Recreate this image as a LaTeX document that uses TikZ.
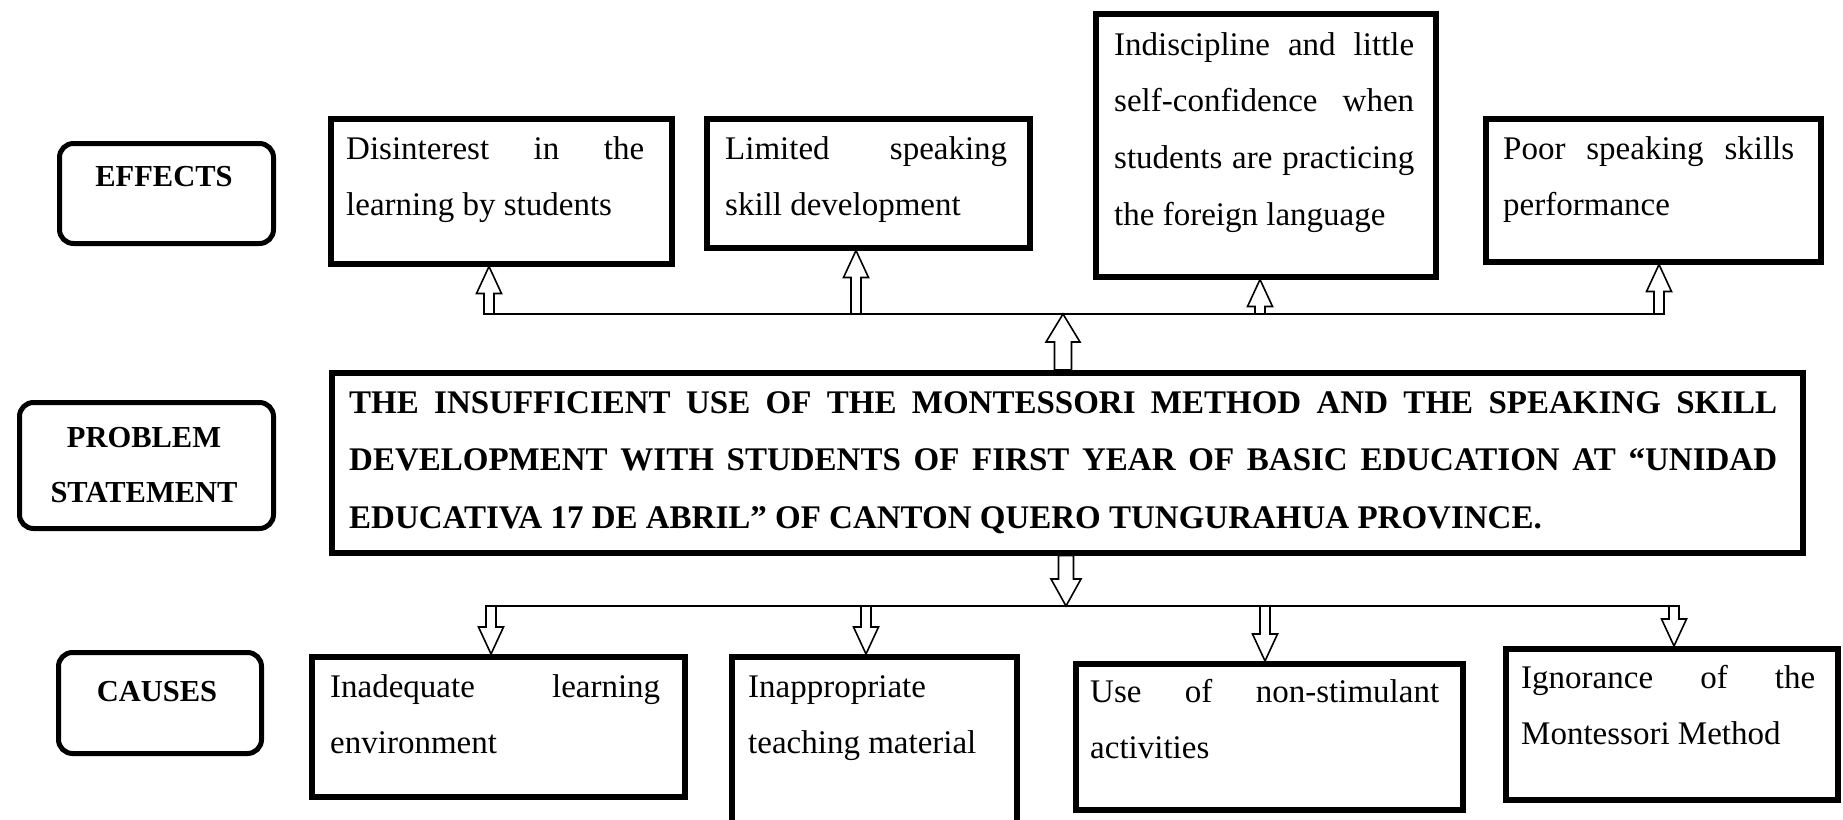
\documentclass[tikz,border=0pt]{standalone}
\usepackage{fontspec}
\setmainfont{Liberation Serif}
\usetikzlibrary{calc}
\tikzset{
  box/.style={draw, line width=5.5pt, rectangle, inner sep=0pt, anchor=north west},
  lbl/.style={draw, line width=5pt, rounded corners=14pt, inner sep=0pt, anchor=north west},
  bus/.style={line width=2pt},
  arr/.style={line width=1.6pt, fill=white, line join=miter},
  btxt/.style={inner sep=0pt, anchor=north west, align=justify,
    font=\fontsize{33}{56.7}\selectfont,
    execute at begin node={\setlength\parindent{0pt}\tolerance=10000\hbadness=10000}},
  ptxt/.style={btxt, font=\fontsize{33}{57.5}\selectfont\bfseries},
  ltxt/.style={inner sep=0pt, anchor=north, align=center, text width=250pt,
    font=\fontsize{30.5}{55}\selectfont\bfseries},
}
\newcommand{\uparr}[5]{%
  \draw[arr] let \p1=(#1), \p2=(#2) in
    (\x2,\y2) -- (\x2+#4,\y2-#5) -- (\x2+#3,\y2-#5) -- (\x2+#3,\y1)
    -- (\x2-#3,\y1) -- (\x2-#3,\y2-#5) -- (\x2-#4,\y2-#5) -- cycle;}
\newcommand{\downarr}[5]{%
  \draw[arr] let \p1=(#1), \p2=(#2) in
    (\x2,\y2) -- (\x2+#4,\y2+#5) -- (\x2+#3,\y2+#5) -- (\x2+#3,\y1)
    -- (\x2-#3,\y1) -- (\x2-#3,\y2+#5) -- (\x2-#4,\y2+#5) -- cycle;}
\begin{document}
\begin{tikzpicture}[x=1pt,y=-1pt]
\useasboundingbox (0,0) rectangle (1843,819);
\clip (0,0) rectangle (1843,819);
\fill[white] (0,0) rectangle (1843,819);

% label boxes
\node[lbl, minimum width=214pt, minimum height=100pt] (effL) at (57,141) {};
\node[lbl, minimum width=254pt, minimum height=126pt] (probL) at (17,400) {};
\node[lbl, minimum width=203pt, minimum height=101pt] (causL) at (56,650) {};
\node[ltxt] (effT) at (164,164) {\rule{0pt}{22pt}EFFECTS};
\node[ltxt] (probT) at (144,425) {\rule{0pt}{22pt}PROBLEM\\STATEMENT};
\node[ltxt] (causT) at (157,679) {\rule{0pt}{22pt}CAUSES};

% effect boxes
\node[box, minimum width=341pt, minimum height=145pt] (d1) at (328,116) {};
\node[box, minimum width=323pt, minimum height=129pt] (d2) at (704,116) {};
\node[box, minimum width=340pt, minimum height=263pt] (d3) at (1093,11) {};
\node[box, minimum width=335pt, minimum height=143pt] (d4) at (1483,116) {};
\node[btxt, text width=298pt] (t1) at (346,134) {\rule{0pt}{25pt}Disinterest in the\linebreak learning by students};
\node[btxt, text width=282pt] (t2) at (725,134) {\rule{0pt}{25pt}Limited speaking\linebreak skill development};
\node[btxt, text width=300pt] (t3) at (1114,30) {\rule{0pt}{25pt}Indiscipline and little\linebreak self-confidence when\linebreak students are practicing\linebreak the foreign language};
\node[btxt, text width=291pt] (t4) at (1503,134) {\rule{0pt}{25pt}Poor speaking skills\linebreak performance};

% problem box
\node[box, minimum width=1471pt, minimum height=180pt] (P) at (329,370) {};
\node[ptxt, text width=1428pt] (tp) at (349,388) {\rule{0pt}{25pt}THE INSUFFICIENT USE OF THE MONTESSORI METHOD AND THE SPEAKING SKILL\linebreak DEVELOPMENT WITH STUDENTS OF FIRST YEAR OF BASIC EDUCATION AT “UNIDAD\linebreak EDUCATIVA 17 DE ABRIL” OF CANTON QUERO TUNGURAHUA PROVINCE.};

% cause boxes
\node[box, minimum width=373pt, minimum height=140pt] (c1) at (309,654) {};
\node[box, minimum width=285pt, minimum height=181pt] (c2) at (729,654) {};
\node[box, minimum width=387pt, minimum height=146pt] (c3) at (1073,661) {};
\node[box, minimum width=332pt, minimum height=151pt] (c4) at (1503,646) {};
\node[btxt, text width=330pt] (tc1) at (330,672) {\rule{0pt}{25pt}Inadequate learning\linebreak environment};
\node[btxt, text width=250pt] (tc2) at (748,672) {\rule{0pt}{25pt}Inappropriate\\teaching material};
\node[btxt, text width=349pt] (tc3) at (1090,677) {\rule{0pt}{25pt}Use of non-stimulant\linebreak activities};
\node[btxt, text width=294pt] (tc4) at (1521,663) {\rule{0pt}{25pt}Ignorance of the\linebreak Montessori Method};

% top bus
\coordinate (busL) at (484,314);
\coordinate (busR) at (1664,314);
\coordinate (bt1) at (489,314);
\coordinate (bt2) at (856,314);
\coordinate (bt3) at (1260,314);
\coordinate (bt4) at (1659,314);
\coordinate (pu) at (1063,314);
\draw[bus] (busL) -- (busR);
\uparr{bt1}{bt1 |- d1.south}{5pt}{12.5pt}{27pt}
\uparr{bt2}{bt2 |- d2.south}{5pt}{12.5pt}{27pt}
\uparr{bt3}{bt3 |- d3.south}{5pt}{12.5pt}{27pt}
\uparr{bt4}{bt4 |- d4.south}{5pt}{12.5pt}{27pt}
\uparr{pu |- P.north}{pu}{8.5pt}{17pt}{28pt}

% bottom bus
\coordinate (busL2) at (486,606);
\coordinate (busR2) at (1679,606);
\coordinate (bb1) at (491,606);
\coordinate (bb2) at (866,606);
\coordinate (bb3) at (1265,606);
\coordinate (bb4) at (1674,606);
\coordinate (pd) at (1066,606);
\draw[bus] (busL2) -- (busR2);
\downarr{bb1}{bb1 |- c1.north}{5pt}{12.5pt}{27pt}
\downarr{bb2}{bb2 |- c2.north}{5pt}{12.5pt}{27pt}
\downarr{bb3}{bb3 |- c3.north}{5pt}{12.5pt}{27pt}
\downarr{bb4}{bb4 |- c4.north}{5pt}{12.5pt}{27pt}
\downarr{pd |- P.south}{pd}{7.5pt}{15pt}{27pt}
\end{tikzpicture}
\end{document}
